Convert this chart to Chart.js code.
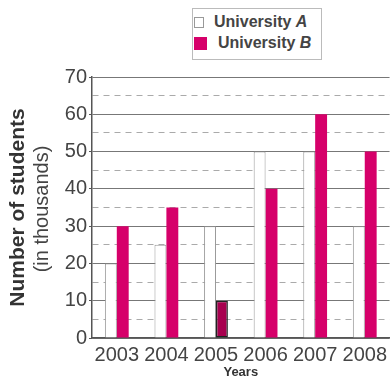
<!DOCTYPE html>
<html lang="en">
<head>
<meta charset="UTF-8">
<script src="https://cdn.jsdelivr.net/npm/chart.js"></script>
<title>Number of students</title>
<style>
    body { margin: 0; background: #fff; }
    #wrap { position: relative; width: 392px; height: 381px; }
    #legend {
        position: absolute; left: 192px; top: 8px; width: 128px; height: 50px;
        border: 1px solid #bbb; background: #fff;
        font-family: "Liberation Sans", Arial, sans-serif; font-weight: bold; font-size: 16px; color: #444;
    }
    .item { position: absolute; left: 1px; display: flex; align-items: center; white-space: nowrap; }
    .box { display: inline-block; }
</style>
</head>
<body>
<div id="wrap">
    <canvas id="myChart" width="392" height="381"></canvas>
    <div id="legend">
        <div class="item" style="top: 4px;"><span class="box" style="width: 8px; height: 9px; border: 1px solid #999; background: #fff; margin-right: 10px;"></span>University <i>&nbsp;A</i></div>
        <div class="item" style="top: 25px;"><span class="box" style="width: 13px; height: 13px; background: #d6006a; margin-right: 11px;"></span>University <i>&nbsp;B</i></div>
    </div>
</div>

<script>
const years = ['2003', '2004', '2005', '2006', '2007', '2008'];
const universityA = [20, 25, 30, 50, 50, 30];
const universityB = [30, 35, 10, 40, 60, 50];

const pink = '#d6006a';
const textFont = '"Liberation Sans", Arial, sans-serif';
const narrowFont = '"Liberation Sans Narrow", "Arial Narrow", "Liberation Sans", sans-serif';

// second line of the y title, lighter weight
const subTitle = {
    id: 'subTitle',
    afterDraw(chart) {
        const c = chart.ctx;
        c.save();
        c.translate(42, 209);
        c.rotate(-Math.PI / 2);
        c.font = '20px ' + textFont;
        c.fillStyle = '#444';
        c.textAlign = 'center';
        c.textBaseline = 'middle';
        c.fillText('(in thousands)', 0, 0);
        c.restore();
    }
};

const ctx = document.getElementById('myChart').getContext('2d');
const chart = new Chart(ctx, {
    type: 'bar',
    data: {
        labels: years,
        datasets: [
            {
                label: 'University A',
                data: universityA,
                backgroundColor: '#fff',
                borderColor: '#999',
                borderWidth: 1,
                borderSkipped: 'bottom',
                categoryPercentage: 0.48,
                barPercentage: 1.0
            },
            {
                label: 'University B',
                data: universityB,
                backgroundColor: universityB.map((v, i) => years[i] === '2005' ? '#a8004f' : pink),
                borderColor: universityB.map((v, i) => years[i] === '2005' ? '#222' : pink),
                borderWidth: universityB.map((v, i) => years[i] === '2005' ? 1.5 : 0),
                borderSkipped: false,
                categoryPercentage: 0.48,
                barPercentage: 1.0
            }
        ]
    },
    plugins: [subTitle],
    options: {
        responsive: false,
        animation: false,
        layout: { padding: { top: 77, right: 0, left: 0, bottom: 0 } },
        plugins: {
            legend: { display: false },
            tooltip: { enabled: false }
        },
        scales: {
            x: {
                grid: { display: false, drawTicks: false },
                border: { color: '#555', width: 1.5 },
                ticks: { color: '#444', font: { family: narrowFont, size: 20 }, padding: 5, maxRotation: 0 },
                title: { display: true, text: 'Years', color: '#333', font: { family: textFont, size: 13, weight: 'bold' }, padding: { top: 0, bottom: 1 } },
                afterFit: s => { s.height = 43; }
            },
            y: {
                min: 0,
                max: 70,
                ticks: {
                    stepSize: 5,
                    autoSkip: false,
                    color: '#444',
                    font: { family: narrowFont, size: 20 },
                    padding: 2,
                    callback: v => v % 10 === 0 ? v : ''
                },
                grid: {
                    color: c => c.tick && c.tick.value % 10 ? '#aaa' : '#777',
                    lineWidth: 1,
                    tickLength: 3,
                    tickColor: c => c.tick && c.tick.value % 10 ? 'rgba(0,0,0,0)' : '#555'
                },
                border: {
                    color: '#555',
                    width: 1.5,
                    dash: c => c.tick && c.tick.value % 10 ? [6, 5] : []
                },
                title: { display: true, text: 'Number of students', color: '#333', font: { family: textFont, size: 21, weight: 'bold' }, padding: { top: 6, bottom: 0 } },
                afterFit: s => { s.width = 92; }
            }
        }
    }
});
</script>
</body>
</html>
